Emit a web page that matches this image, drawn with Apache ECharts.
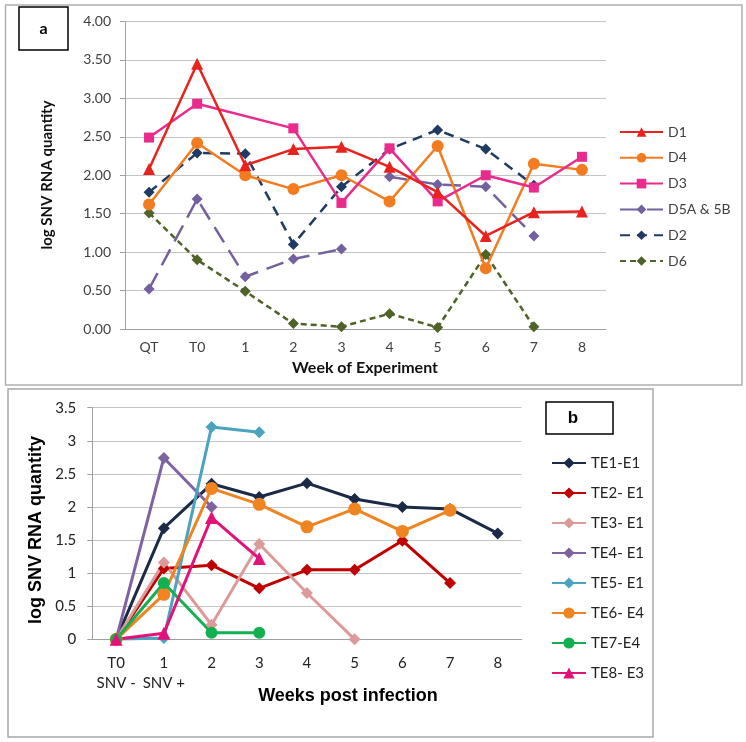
<!DOCTYPE html>
<html>
<head>
<meta charset="utf-8">
<script src="https://cdn.jsdelivr.net/npm/echarts@6/dist/echarts.min.js"></script>
<style>
  html, body { margin: 0; padding: 0; background: #fff; }
  #chart { width: 746px; height: 742px; }
</style>
</head>
<body>
<div id="chart"></div>
<script>
// panel a - week of experiment
const weeksA = ["QT", "T0", "1", "2", "3", "4", "5", "6", "7", "8"];
const d1 = [2.08, 3.45, 2.13, 2.34, 2.37, 2.11, 1.78, 1.21, 1.52, 1.53];
const d4 = [1.62, 2.42, 2.00, 1.82, 2.00, 1.66, 2.38, 0.79, 2.15, 2.07];
const d3 = [2.49, 2.93, null, 2.61, 1.64, 2.35, 1.66, 2.00, 1.84, 2.24];
const d5a = [0.52, 1.69, 0.68, 0.91, 1.04, null, null, null, null, null];
const d5b = [null, null, null, null, null, 1.98, 1.88, 1.85, 1.21, null];
const d2 = [1.78, 2.29, 2.28, 1.10, 1.85, 2.34, 2.59, 2.34, 1.87, null];
const d6 = [1.51, 0.90, 0.49, 0.07, 0.03, 0.20, 0.02, 0.97, 0.03, null];
const legendA = ["D1", "D4", "D3", "D5A & 5B", "D2", "D6"];

// panel b - weeks post infection
const weeksB = ["T0", "1", "2", "3", "4", "5", "6", "7", "8"];
const subLabelsB = { T0: "SNV -", "1": "SNV +" };
const te1 = [0, 1.68, 2.35, 2.15, 2.36, 2.12, 2.00, 1.97, 1.60];
const te2 = [0, 1.07, 1.12, 0.77, 1.05, 1.05, 1.49, 0.85];
const te3 = [0, 1.16, 0.22, 1.44, 0.70, 0];
const te4 = [0, 2.74, 2.00];
const te5 = [0, 0.02, 3.21, 3.13];
const te6 = [0, 0.68, 2.28, 2.04, 1.70, 1.97, 1.63, 1.95];
const te7 = [0, 0.85, 0.10, 0.10];
const te8 = [0, 0.09, 1.84, 1.22];
const legendB = ["TE1-E1", "TE2- E1", "TE3- E1", "TE4- E1", "TE5- E1", "TE6- E4", "TE7-E4", "TE8- E3"];

const grey = "#404040";
const gridColor = "#c4c4c4";

function lineA(name, data, color, symbol, size, dash) {
  return {
    name, type: "line", xAxisIndex: 0, yAxisIndex: 0, data,
    symbol, symbolSize: size, showAllSymbol: true, connectNulls: name === "D3",
    lineStyle: { color, width: 2.5, type: dash || "solid" },
    itemStyle: { color },
  };
}

function lineB(name, data, color, symbol, size) {
  return {
    name, type: "line", xAxisIndex: 1, yAxisIndex: 1, data,
    symbol, symbolSize: size, showAllSymbol: true,
    lineStyle: { color, width: 3 },
    itemStyle: { color },
  };
}

const chart = echarts.init(document.getElementById("chart"), null, { renderer: "canvas" });

chart.setOption({
  animation: false,
  textStyle: { fontFamily: "Lato" },
  grid: [
    { left: 125, right: 140, top: 21.5, height: 307.5 },
    { left: 92.3, width: 429.3, top: 407.7, height: 231.6 },
  ],
  xAxis: [
    {
      type: "category", gridIndex: 0, data: weeksA, boundaryGap: true,
      axisLine: { lineStyle: { color: "#a0a0a0" } },
      axisTick: { length: 6, lineStyle: { color: "#a0a0a0" } },
      axisLabel: { color: grey, fontSize: 14, margin: 11, interval: 0 },
    },
    {
      type: "category", gridIndex: 1, data: weeksB, boundaryGap: true,
      axisLine: { lineStyle: { color: "#a0a0a0" } },
      axisTick: { length: 6, lineStyle: { color: "#a0a0a0" } },
      axisLabel: {
        color: "#222", fontSize: 15, lineHeight: 20, margin: 14, interval: 0,
        formatter: (v) => (subLabelsB[v] ? v + "\n" + subLabelsB[v] : v),
      },
    },
  ],
  yAxis: [
    {
      type: "value", gridIndex: 0, min: 0, max: 4, interval: 0.5,
      axisLine: { show: true, lineStyle: { color: "#a0a0a0" } },
      axisTick: { show: true, length: 5, lineStyle: { color: "#a0a0a0" } },
      axisLabel: { color: grey, fontSize: 14, margin: 14, formatter: (v) => v.toFixed(2) },
      splitLine: { lineStyle: { color: gridColor } },
    },
    {
      type: "value", gridIndex: 1, min: 0, max: 3.5, interval: 0.5,
      axisLine: { show: true, lineStyle: { color: "#a0a0a0" } },
      axisTick: { show: true, length: 5, lineStyle: { color: "#a0a0a0" } },
      axisLabel: { color: "#222", fontSize: 15, margin: 16 },
      splitLine: { lineStyle: { color: gridColor } },
    },
  ],
  legend: [
    {
      data: legendA, orient: "vertical", left: 614, top: 120,
      itemWidth: 43, itemHeight: 12, itemGap: 11.8,
      textStyle: { color: grey, fontSize: 14, lineHeight: 14 },
    },
    {
      data: legendB, orient: "vertical", left: 546, top: 450.5,
      itemWidth: 34, itemHeight: 14, itemGap: 15,
      textStyle: { color: "#222", fontSize: 15, lineHeight: 15 },
    },
  ],
  graphic: [
    { type: "rect", shape: { x: 5.5, y: 5, width: 736.5, height: 380 }, style: { fill: null, stroke: "#b0b0b0", lineWidth: 1.5 }, silent: true },
    { type: "rect", shape: { x: 8, y: 389, width: 645, height: 348 }, style: { fill: null, stroke: "#a8a8a8", lineWidth: 1.5 }, silent: true },
    { type: "rect", shape: { x: 19, y: 7, width: 49, height: 43 }, style: { fill: "#fff", stroke: "#000", lineWidth: 1.5 } },
    { type: "text", x: 43.5, y: 28.5, style: { text: "a", font: "bold 16px Lato", fill: "#000", align: "center", verticalAlign: "middle" } },
    { type: "rect", shape: { x: 546, y: 402, width: 67, height: 32 }, style: { fill: "#fff", stroke: "#000", lineWidth: 1.5 } },
    { type: "text", x: 573, y: 418, style: { text: "b", font: "bold 17px 'Liberation Sans'", fill: "#000", align: "center", verticalAlign: "middle" } },
    { type: "text", x: 47, y: 175, rotation: Math.PI / 2, style: { text: "log SNV RNA quantity", font: "bold 15px Lato", fill: "#111", align: "center", verticalAlign: "middle" } },
    { type: "text", x: 365, y: 368, style: { text: "Week of Experiment", font: "bold 16px Lato", fill: "#111", align: "center", verticalAlign: "middle" } },
    { type: "text", x: 36, y: 530, rotation: Math.PI / 2, style: { text: "log SNV RNA quantity", font: "bold 18px 'Liberation Sans'", fill: "#000", align: "center", verticalAlign: "middle" } },
    { type: "text", x: 348, y: 696, style: { text: "Weeks post infection", font: "bold 18px 'Liberation Sans'", fill: "#000", align: "center", verticalAlign: "middle" } },
  ],
  series: [
    lineA("D6", d6, "#4f6228", "diamond", 11, [6, 4]),
    lineA("D2", d2, "#1f3b63", "diamond", 11, [10, 7]),
    lineA("D5A & 5B", d5a, "#74609e", "diamond", 11, [18, 9]),
    lineA("D5A & 5B", d5b, "#74609e", "diamond", 11, [18, 9]),
    lineA("D4", d4, "#f47c20", "circle", 12),
    lineA("D3", d3, "#ea2a8c", "rect", 10),
    lineA("D1", d1, "#e8221c", "triangle", 12),
    lineB("TE1-E1", te1, "#1b2a47", "diamond", 12),
    lineB("TE2- E1", te2, "#c00000", "diamond", 12),
    lineB("TE3- E1", te3, "#dc9a98", "diamond", 12),
    lineB("TE4- E1", te4, "#7f63a1", "diamond", 12),
    lineB("TE5- E1", te5, "#4aa3bf", "diamond", 12),
    lineB("TE6- E4", te6, "#f08420", "circle", 13),
    lineB("TE7-E4", te7, "#12b050", "circle", 12),
    lineB("TE8- E3", te8, "#e3127a", "triangle", 13),
  ],
});
</script>
</body>
</html>
